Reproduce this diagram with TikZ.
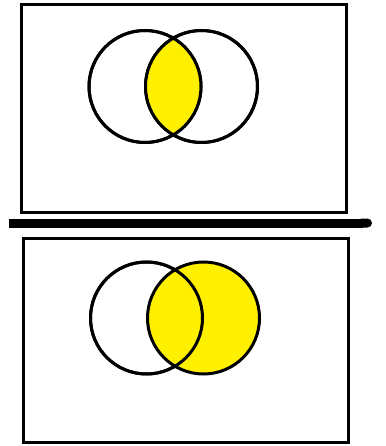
\documentclass[tikz,border=0pt]{standalone}
\usepackage{xcolor}
\usepackage{tikz}
\usetikzlibrary{arrows.meta, positioning}
\definecolor{setyellow}{RGB}{255,240,0}
\tikzset{
  frame/.style={rectangle, draw=black, line width=3pt, minimum width=325pt,
    inner sep=0pt},
  setc/.style={circle, draw=black, line width=3pt, minimum size=112pt, inner sep=0pt},
  bar/.style={line width=9pt, -{Round Cap[]}}
}
\begin{document}
\begin{tikzpicture}[x=1pt, y=-1pt]
  \useasboundingbox (0,0) rectangle (385,446);
  % upper panel: A and B
  \node[frame, minimum height=207pt] (top) at (183.5,108.5) {};
  \node[setc] (a1) at (145,86.5) {};
  \node[setc, right=-58.5pt of a1] (b1) {};
  \begin{scope}
    \clip (a1.center) circle[radius=56];
    \fill[setyellow] (b1.center) circle[radius=56];
  \end{scope}
  \node[setc] at (a1) {};
  \node[setc] at (b1) {};
  % separator
  \coordinate (sl) at (9,223);
  \coordinate (sr) at (372,223);
  \draw[bar] (sl) -- (sr);
  % lower panel: B
  \node[frame, minimum height=204pt] (bot) at (185.5,340) {};
  \node[setc] (a2) at (146.5,318) {};
  \node[setc, fill=setyellow, right=-58pt of a2] (b2) {};
  \node[setc] at (a2) {};
\end{tikzpicture}
\end{document}
